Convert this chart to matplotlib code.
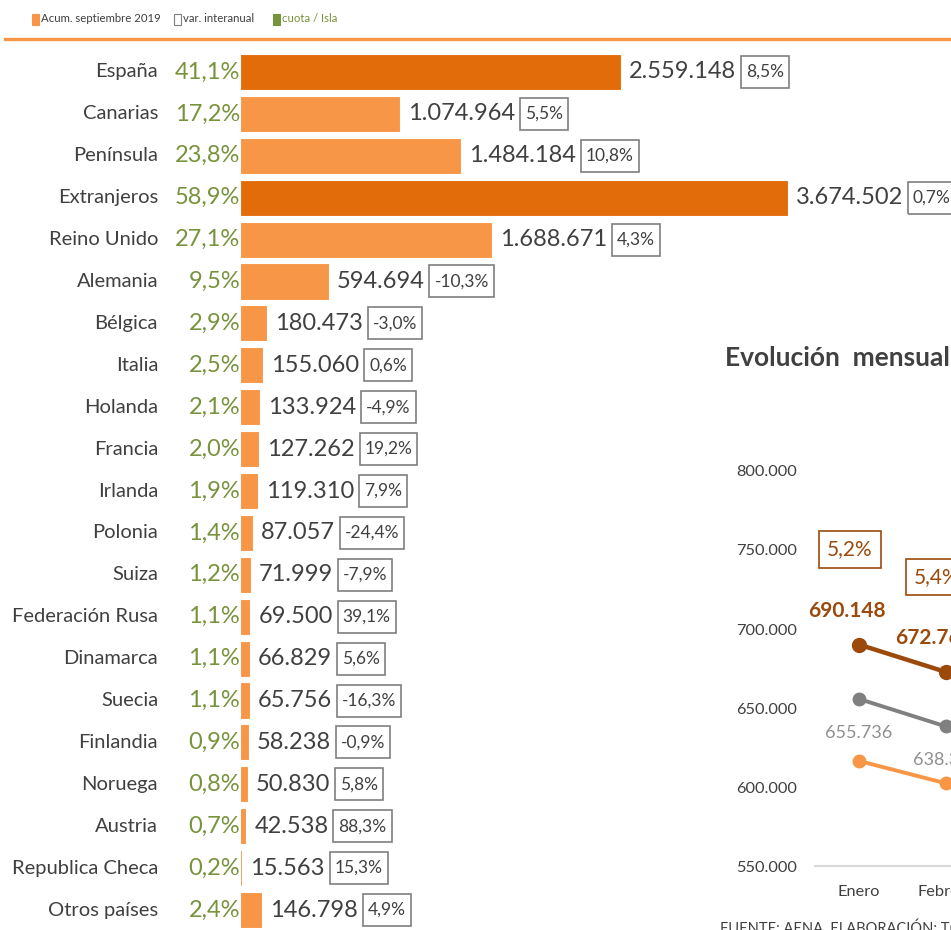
import matplotlib
matplotlib.use("Agg")
import matplotlib.pyplot as plt
from matplotlib.patches import Rectangle
from matplotlib.lines import Line2D

plt.rcParams['font.family'] = ['Lato', 'DejaVu Sans']

# ---------------- data ----------------
categories = ["España", "Canarias", "Península", "Extranjeros", "Reino Unido", "Alemania",
              "Bélgica", "Italia", "Holanda", "Francia", "Irlanda", "Polonia", "Suiza",
              "Federación Rusa", "Dinamarca", "Suecia", "Finlandia", "Noruega", "Austria",
              "Republica Checa", "Otros países"]
acum_sep_2019 = [2559148, 1074964, 1484184, 3674502, 1688671, 594694, 180473, 155060,
                 133924, 127262, 119310, 87057, 71999, 69500, 66829, 65756, 58238, 50830,
                 42538, 15563, 146798]
var_interanual = [8.5, 5.5, 10.8, 0.7, 4.3, -10.3, -3.0, 0.6, -4.9, 19.2, 7.9, -24.4, -7.9,
                  39.1, 5.6, -16.3, -0.9, 5.8, 88.3, 15.3, 4.9]
cuota_isla = [41.1, 17.2, 23.8, 58.9, 27.1, 9.5, 2.9, 2.5, 2.1, 2.0, 1.9, 1.4, 1.2, 1.1, 1.1,
              1.1, 0.9, 0.8, 0.7, 0.2, 2.4]
highlight = ["España", "Extranjeros"]

meses = ["Enero", "Febrero"]
serie_oscura = [690148, 672760]
serie_gris = [655736, 638300]
serie_clara = [616500, 602300]
var_mensual = [5.2, 5.4]
legend_labels = ["Acum. septiembre 2019", "var. interanual", "cuota / Isla"]
titulo = "Evolución  mensual de pasajeros"
fuente = "FUENTE: AENA. ELABORACIÓN: Turismo de Tenerife"

# ---------------- style ----------------
DARK_OR = "#E36C0A"
LIGHT_OR = "#F79646"
GREEN = "#77933C"
BROWN = "#9C4A0C"
GRAY_LINE = "#808080"
TXT = "#404040"

W, H = 951, 930
fig = plt.figure(figsize=(W / 100, H / 100), dpi=100)
fig.patch.set_facecolor("white")


def fx(px):
    return px / W


def fy(py):
    return 1 - py / H


def fmt_int(v):
    return f"{v:,}".replace(",", ".")


def fmt_pct(v):
    return f"{v:.1f}".replace(".", ",") + "%"


# ---------------- legend & top rule ----------------
fig.add_artist(Line2D([fx(5), fx(951)], [fy(39), fy(39)], color=LIGHT_OR, lw=2.4))
leg_items = [(32, LIGHT_OR, LIGHT_OR, TXT), (174, "white", "#7F7F7F", TXT),
             (273, "#77933C", "#77933C", GREEN)]
for (x0, fc, ec, tc), lab in zip(leg_items, legend_labels):
    fig.add_artist(Rectangle((fx(x0), fy(25)), fx(7), 11 / H, facecolor=fc, edgecolor=ec, lw=0.8))
    fig.text(fx(x0 + 9), fy(19), lab, ha="left", va="center", fontsize=8.2, color=tc)

# ---------------- bar chart ----------------
n = len(categories)
row0, step = 72, 41.9
ax = fig.add_axes([fx(240), 0, fx(711), 1])
ax.set_ylim((H - row0) / step, -row0 / step)
ax.set_xlim(0, 711 / 149e-6)
ax.axis("off")
ys = list(range(n))
colors = [DARK_OR if c in highlight else LIGHT_OR for c in categories]
ax.barh(ys, acum_sep_2019, height=0.86, color=colors, edgecolor="white", linewidth=0.8)

value_texts = []
for i, (c, v, s) in enumerate(zip(categories, acum_sep_2019, cuota_isla)):
    ax.annotate(c, xy=(0, i), xytext=(-82, 0), textcoords="offset pixels",
                ha="right", va="center", fontsize=14.5, color=TXT)
    ax.annotate(fmt_pct(s), xy=(0, i), xytext=(0, 0), textcoords="offset pixels",
                ha="right", va="center", fontsize=17, color=GREEN)
    t = ax.annotate(fmt_int(v), xy=(v, i), xytext=(8, 0), textcoords="offset pixels",
                    ha="left", va="center", fontsize=17, color=TXT)
    value_texts.append(t)

fig.canvas.draw()
renderer = fig.canvas.get_renderer()
for t, p in zip(value_texts, var_interanual):
    bb = t.get_window_extent(renderer)
    yc = (bb.y0 + bb.y1) / 2
    bx0 = bb.x1 + 5
    pt = fig.text((bx0 + 5) / W, yc / H, fmt_pct(p), ha="left", va="center",
                  fontsize=12.5, color=TXT)
    tb = pt.get_window_extent(renderer)
    fig.add_artist(Rectangle((bx0 / W, (yc - 16) / H), (tb.x1 + 5 - bx0) / W, 32 / H,
                             facecolor="none", edgecolor="#7F7F7F", lw=1.2))

# ---------------- line chart (inset, cut at right edge) ----------------
ax2 = fig.add_axes([fx(815), fy(866), fx(300), (866 - 400) / H])
ax2.set_ylim(550000, 550000 + (866 - 400) / 79 * 50000)
ax2.set_xlim(-44 / 87, -44 / 87 + 300 / 87)
ax2.set_facecolor("none")
for sp in ["top", "right", "left"]:
    ax2.spines[sp].set_visible(False)
ax2.spines["bottom"].set_color("#D9D9D9")
ax2.spines["bottom"].set_linewidth(1.5)
yt = [550000, 600000, 650000, 700000, 750000, 800000]
ax2.set_yticks(yt)
ax2.set_yticklabels([fmt_int(v) for v in yt])
xs = list(range(len(meses)))
ax2.set_xticks(xs)
ax2.set_xticklabels(meses)
ax2.tick_params(axis="y", length=0, pad=13, labelsize=11.8, labelcolor=TXT)
ax2.tick_params(axis="x", length=0, pad=14, labelsize=11.8, labelcolor=TXT)

ax2.plot(xs, serie_clara, color=LIGHT_OR, lw=2.8, marker="o", ms=9, clip_on=False)
ax2.plot(xs, serie_gris, color=GRAY_LINE, lw=2.8, marker="o", ms=9, clip_on=False)
ax2.plot(xs, serie_oscura, color=BROWN, lw=3.2, marker="o", ms=10, clip_on=False)

for x, v in zip(xs, serie_oscura):
    ax2.annotate(fmt_int(v), xy=(x, v), xytext=(-12, 34), textcoords="offset pixels",
                 ha="center", va="center", fontsize=15, fontweight="bold", color=BROWN,
                 annotation_clip=False)
for x, v in zip(xs, serie_gris):
    ax2.annotate(fmt_int(v), xy=(x, v), xytext=(0, -34), textcoords="offset pixels",
                 ha="center", va="center", fontsize=13, color="#909090", annotation_clip=False)
for x, v, p in zip(xs, serie_oscura, var_mensual):
    ax2.annotate(fmt_pct(p), xy=(x, v), xytext=(-9, 95), textcoords="offset pixels",
                 ha="center", va="center", fontsize=15, color=BROWN, annotation_clip=False,
                 bbox=dict(boxstyle="square,pad=0.4", facecolor="white", edgecolor=BROWN, lw=1.2))

fig.text(fx(725), fy(358), titulo, ha="left", va="center", fontsize=19, fontweight="bold", color=TXT)
fig.text(fx(720), fy(921), fuente, ha="left", va="top", fontsize=10.5, color=TXT)

fig.savefig("out.png", dpi=100, facecolor="white")
